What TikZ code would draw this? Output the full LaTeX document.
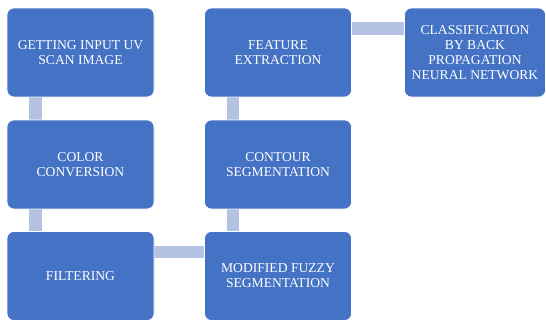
\documentclass[tikz,border=0pt]{standalone}
\usepackage{fontspec}
\setmainfont{Liberation Serif}
\usetikzlibrary{backgrounds,calc}
\definecolor{boxblue}{HTML}{4472C4}
\definecolor{connblue}{HTML}{B4C2E2}
\tikzset{
  stepbox/.style={rectangle, rounded corners=7pt, fill=boxblue, draw=white, line width=0.6pt,
    minimum width=147pt, minimum height=89pt, inner sep=1pt, text=white, align=center,
    font=\fontsize{13.6}{15}\selectfont},
  conn/.style={connblue, line width=12.5pt}
}
\begin{document}
\begin{tikzpicture}[x=1pt,y=1pt]
\useasboundingbox (0,0) rectangle (546,-322);
\node[stepbox] (b1) at (80.5,-52.5) {GETTING INPUT UV\\SCAN IMAGE};
\node[stepbox] (b2) at (80.5,-164.5) {COLOR\\CONVERSION};
\node[stepbox] (b3) at (80.5,-276) {FILTERING};
\node[stepbox] (b4) at (278,-276) {MODIFIED FUZZY\\SEGMENTATION};
\node[stepbox] (b5) at (278,-164.5) {CONTOUR\\SEGMENTATION};
\node[stepbox] (b6) at (278,-52.5) {FEATURE\\EXTRACTION};
\node[stepbox, minimum width=141pt] (b7) at (475,-52.5) {CLASSIFICATION\\BY BACK\\PROPAGATION\\NEURAL NETWORK};
\begin{scope}[on background layer]
\draw[conn] ($(b1.south west)+(29,0)$) -- ($(b2.north west)+(29,0)$);
\draw[conn] ($(b2.south west)+(29,0)$) -- ($(b3.north west)+(29,0)$);
\draw[conn] ($(b3.north east)+(0,-21)$) -- ($(b4.north west)+(0,-21)$);
\draw[conn] ($(b4.north west)+(29,0)$) -- ($(b5.south west)+(29,0)$);
\draw[conn] ($(b5.north west)+(29,0)$) -- ($(b6.south west)+(29,0)$);
\draw[conn] ($(b6.north east)+(0,-21)$) -- ($(b7.north west)+(0,-21)$);
\end{scope}
\end{tikzpicture}
\end{document}
